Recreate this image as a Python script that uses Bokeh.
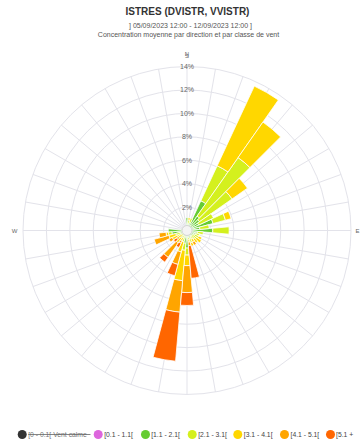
import math
from bokeh.plotting import figure
from bokeh.models import Range1d
from bokeh.core.properties import value
from bokeh.embed import file_html
from bokeh.resources import INLINE

W, H = 361, 443
FONT = value("Liberation Sans")

# ---------------- data ----------------
directions = list(range(0, 360, 10))  # compass bearing of each sector (deg)
class_labels = ["[0 - 0.1[ Vent calme", "[0.1 - 1.1[", "[1.1 - 2.1[", "[2.1 - 3.1[",
                "[3.1 - 4.1[", "[4.1 - 5.1[", "[5.1 +"]
class_colors = ["#333333", "#dd66dd", "#66cc33", "#d4f01e", "#ffd700", "#ffa500", "#ff6600"]
class_visible = [False, True, True, True, True, True, True]

#            0    10   20   30   40   50   60   70   80   90  100  110  120  130  140  150  160  170  180  190  200  210  220  230  240  250  260  270  280  290  300  310  320  330  340  350
calme   = [0.0]*36
c_01_11 = [0.3, 0.3, 0.3, 0.3, 0.3, 0.3, 0.3, 0.3, 0.3, 0.3, 0.3, 0.3, 0.3, 0.3, 0.3, 0.3, 0.3, 0.3, 0.3, 0.3, 0.3, 0.3, 0.3, 0.3, 0.3, 0.3, 0.3, 0.3, 0.3, 0.2, 0.2, 0.2, 0.2, 0.2, 0.2, 0.2]
c_11_21 = [0.8, 0.3, 0.4, 2.5, 1.2, 1.0, 0.8, 2.0, 0.8, 1.9, 0.6, 0.5, 0.4, 0.3, 0.3, 0.3, 0.4, 0.3, 1.2, 0.8, 0.3, 0.1, 0.2, 0.1, 0.3, 0.3, 1.0, 1.3, 0.2, 0.1, 0.0, 0.0, 0.0, 0.0, 0.0, 0.1]
c_21_31 = [0.0, 0.3, 0.4, 3.3, 6.1, 3.4, 1.4, 1.1, 0.8, 1.4, 0.5, 0.3, 0.4, 0.4, 0.3, 0.2, 0.4, 0.2, 0.6, 0.6, 0.4, 0.3, 0.3, 0.2, 0.3, 0.4, 0.3, 0.0, 0.0, 0.0, 0.0, 0.0, 0.0, 0.0, 0.0, 0.0]
c_31_41 = [0.0, 0.2, 0.0, 7.5, 3.7, 1.6, 0.0, 0.5, 0.0, 0.0, 0.0, 0.0, 0.3, 0.5, 0.4, 0.3, 0.3, 0.2, 0.9, 2.6, 0.9, 0.3, 0.5, 0.3, 0.5, 0.6, 0.2, 0.0, 0.0, 0.0, 0.0, 0.0, 0.0, 0.0, 0.0, 0.0]
c_41_51 = [0.0, 0.0, 0.0, 0.0, 0.0, 0.0, 0.0, 0.0, 0.0, 0.0, 0.0, 0.0, 0.0, 0.0, 0.0, 0.3, 0.0, 0.3, 2.3, 2.7, 1.1, 0.2, 1.5, 0.2, 0.3, 1.3, 0.6, 0.0, 0.0, 0.0, 0.0, 0.0, 0.0, 0.0, 0.0, 0.0]
c_51    = [0.0, 0.0, 0.0, 0.0, 0.0, 0.0, 0.0, 0.0, 0.0, 0.0, 0.0, 0.0, 0.0, 0.0, 0.0, 0.0, 0.0, 2.8, 1.1, 4.2, 1.0, 0.4, 0.5, 0.3, 0.0, 0.0, 0.0, 0.0, 0.0, 0.0, 0.0, 0.0, 0.0, 0.0, 0.0, 0.0]
series = [calme, c_01_11, c_11_21, c_21_31, c_31_41, c_41_51, c_51]

radial_ticks = [2, 4, 6, 8, 10, 12, 14]
radial_tick_labels = ["2%", "4%", "6%", "8%", "10%", "12%", "14%"]
r_max = 14
compass_labels = ["N", "E", "S", "W"]
compass_bearings = [0, 90, 180, 270]

title = "ISTRES (DVISTR, VVISTR)"
subtitle1 = "] 05/09/2023 12:00 - 12/09/2023 12:00 ]"
subtitle2 = "Concentration moyenne par direction et par classe de vent"

# ---------------- layout (pixel geometry) ----------------
CX, CY = 186.5, 230.0     # pane centre, px from top-left
R_PX = 164.0              # pixel radius of r_max
K = R_PX / r_max          # px per percent


def dx(px):
    return (px - CX) / K


def dy(py):
    return (CY - py) / K


p = figure(width=W, height=H, output_backend="svg", toolbar_location=None,
           x_range=Range1d(dx(0), dx(W)), y_range=Range1d(dy(H), dy(0)),
           min_border=0, background_fill_color="#ffffff", border_fill_color="#ffffff")
p.axis.visible = False
p.grid.visible = False
p.outline_line_color = None

GRID = "#e3e3ea"
# circular grid
p.circle(x=[0]*len(radial_ticks), y=[0]*len(radial_ticks), radius=radial_ticks,
         fill_color=None, line_color=GRID, line_width=1)
# radial grid lines
p.segment(x0=[0]*len(directions), y0=[0]*len(directions),
          x1=[r_max*math.sin(math.radians(b)) for b in directions],
          y1=[r_max*math.cos(math.radians(b)) for b in directions],
          line_color=GRID, line_width=1)

# stacked polar columns
cum = [0.0]*len(directions)
for vals, col, vis in zip(series, class_colors, class_visible):
    if not vis:
        continue
    inner = list(cum)
    outer = [a + b for a, b in zip(cum, vals)]
    keep = [i for i, v in enumerate(vals) if v > 0]
    n = len(keep)
    p.annular_wedge(x=[0]*n, y=[0]*n,
                    inner_radius=[inner[i] for i in keep],
                    outer_radius=[outer[i] for i in keep],
                    start_angle=[90 - directions[i] - 5 for i in keep],
                    end_angle=[90 - directions[i] + 5 for i in keep],
                    start_angle_units="deg", end_angle_units="deg", direction="anticlock",
                    fill_color=col, line_color="#ffffff", line_width=0.8)
    cum = outer

# centre hole
p.circle(x=[0], y=[0], radius=[5.0 / K], fill_color="#f4f4f4", line_color="#d4d4d4", line_width=1)

# radial axis labels along the north line
p.text(x=[0]*len(radial_ticks), y=radial_ticks, text=radial_tick_labels,
       text_font=FONT, text_font_size="7px", text_color="#666666",
       text_align="center", text_baseline="middle")

# compass labels
lab_r = [dy(53), dx(357), dy(405), -dx(14)]
p.text(x=[lab_r[i]*math.sin(math.radians(b)) for i, b in enumerate(compass_bearings)],
       y=[lab_r[i]*math.cos(math.radians(b)) for i, b in enumerate(compass_bearings)],
       text=compass_labels, text_font=FONT, text_font_size="6px", text_color="#666666",
       text_align="center", text_baseline="middle")

# titles
p.text(x=[dx(187)], y=[dy(11)], text=[title], text_font=FONT, text_font_size="10px",
       text_font_style="bold", text_color="#333333", text_align="center", text_baseline="middle")
p.text(x=[dx(190), dx(188)], y=[dy(25), dy(33.5)], text=[subtitle1, subtitle2], text_font=FONT,
       text_font_size="7px", text_color="#555555", text_align="center", text_baseline="middle")

# legend
LEG_Y = 434
sym_x = [21.7, 97.7, 145, 191.7, 237.3, 284, 330]
txt_x = [27.7, 103.7, 150.7, 197.7, 243.3, 290, 335.5]
p.scatter(x=[dx(v) for v in sym_x], y=[dy(LEG_Y)]*len(sym_x), size=9,
          fill_color=class_colors, line_color=None)
p.text(x=[dx(v) for v in txt_x], y=[dy(LEG_Y)]*len(txt_x), text=class_labels,
       text_font=FONT, text_font_size="6.8px",
       text_color=["#777777" if not v else "#444444" for v in class_visible],
       text_align="left", text_baseline="middle")
# strike-through for the hidden class
p.segment(x0=[dx(27.7)], y0=[dy(LEG_Y)], x1=[dx(90)], y1=[dy(LEG_Y)],
          line_color="#666666", line_width=0.8)

open("out.html", "w").write(file_html(p, INLINE))
